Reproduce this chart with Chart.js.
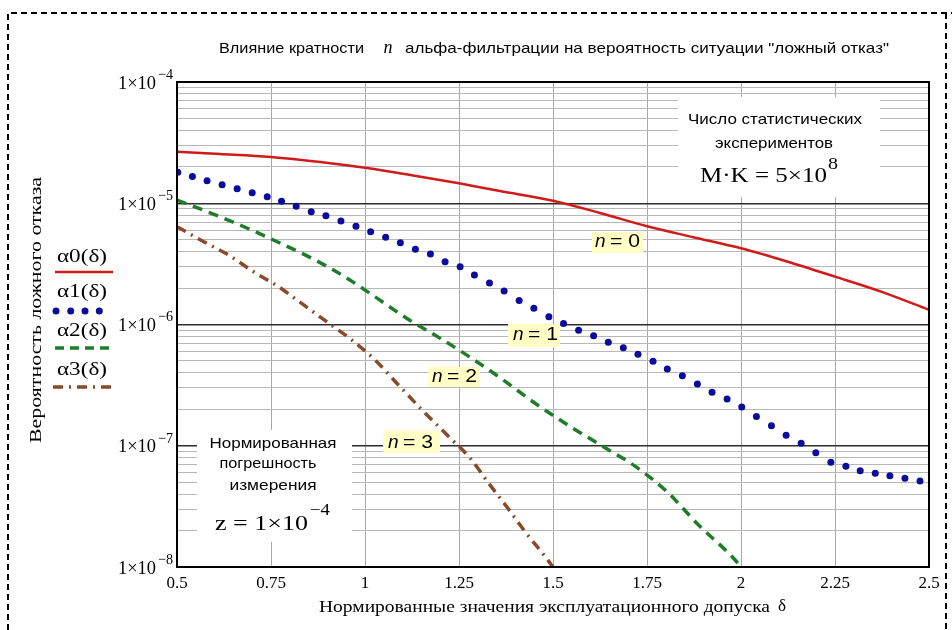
<!DOCTYPE html>
<html><head><meta charset="utf-8">
<script src="https://cdn.jsdelivr.net/npm/chart.js@4.4.0/dist/chart.umd.min.js"></script>
<style>html,body{margin:0;padding:0;background:#fff;}canvas{display:block;}</style>
</head><body>
<canvas id="c" width="952" height="630"></canvas>
<script>
// ---------- data ----------
const delta0 = [0.5,0.615,0.75,0.881,1.0,1.12,1.25,1.359,1.5,1.625,1.75,1.873,2.0,2.122,2.25,2.378,2.5];
const alpha0 = [2.66e-5,2.55e-5,2.41e-5,2.19e-5,1.96e-5,1.71e-5,1.46e-5,1.26e-5,1.05e-5,8.32e-6,6.46e-6,5.25e-6,4.25e-6,3.31e-6,2.48e-6,1.84e-6,1.32e-6];

const delta1 = [0.502,0.541,0.580,0.620,0.660,0.700,0.740,0.778,0.817,0.857,0.896,0.936,0.976,1.015,1.055,1.094,1.134,1.174,1.213,1.253,1.291,1.331,1.370,1.410,1.449,1.489,1.528,1.568,1.608,1.647,1.687,1.726,1.766,1.804,1.844,1.884,1.923,1.963,2.002,2.041,2.081,2.120,2.160,2.199,2.239,2.279,2.317,2.357,2.396,2.436,2.476];
const alpha1 = [1.80e-5,1.66e-5,1.53e-5,1.42e-5,1.32e-5,1.22e-5,1.13e-5,1.04e-5,9.44e-6,8.51e-6,7.89e-6,7.14e-6,6.46e-6,5.82e-6,5.24e-6,4.73e-6,4.17e-6,3.81e-6,3.30e-6,3.00e-6,2.56e-6,2.20e-6,1.89e-6,1.58e-6,1.36e-6,1.16e-6,1.02e-6,8.95e-7,8.09e-7,7.13e-7,6.44e-7,5.68e-7,4.97e-7,4.30e-7,3.78e-7,3.23e-7,2.76e-7,2.43e-7,2.09e-7,1.74e-7,1.46e-7,1.22e-7,1.05e-7,8.77e-8,7.31e-8,6.78e-8,6.22e-8,5.93e-8,5.66e-8,5.40e-8,5.13e-8];

const delta2 = [0.50,0.598,0.684,0.768,0.859,0.943,1.027,1.112,1.196,1.284,1.368,1.457,1.546,1.634,1.719,1.803,1.887,1.976,2.0];
const alpha2 = [1.06e-5,8.11e-6,6.28e-6,4.79e-6,3.51e-6,2.51e-6,1.69e-6,1.12e-6,7.83e-7,5.26e-7,3.48e-7,2.19e-7,1.44e-7,9.82e-8,6.76e-8,4.18e-8,2.22e-8,1.22e-8,1.0e-8];

const delta3 = [0.50,0.571,0.637,0.704,0.770,0.837,0.899,0.965,1.027,1.089,1.152,1.218,1.280,1.329,1.377,1.426,1.479,1.50];
const alpha3 = [6.41e-6,4.82e-6,3.74e-6,2.72e-6,2.05e-6,1.45e-6,1.05e-6,7.45e-7,5.09e-7,3.17e-7,1.97e-7,1.23e-7,7.87e-8,4.90e-8,3.14e-8,1.95e-8,1.22e-8,1.0e-8];

const seriesNames = ['α0(δ)','α1(δ)','α2(δ)','α3(δ)'];
const curveLabels = ['= 0','= 1','= 2','= 3'];

const xTickValues = [0.5,0.75,1,1.25,1.5,1.75,2,2.25,2.5];
const xTickLabels = ['0.5','0.75','1','1.25','1.5','1.75','2','2.25','2.5'];
const yTickValues = [1e-8,1e-7,1e-6,1e-5,1e-4];
const yTickBase = '1×10';
const yTickExp = ['−8','−7','−6','−5','−4'];

const titleParts = ['Влияние кратности','n','альфа-фильтрации на вероятность ситуации "ложный отказ"'];
const xTitle = 'Нормированные значения эксплуатационного допуска';
const yTitle = 'Вероятность ложного отказа';
const noteTR = ['Число статистических','экспериментов','M·K = 5×10','8'];
const noteBL = ['Нормированная','погрешность','измерения','z = 1×10','−4'];

// ---------- helpers ----------
const isDecade = v => Math.abs(Math.log10(v) - Math.round(Math.log10(v))) < 1e-6;
const yGrid = [];
for (let e = -8; e <= -4; e++) for (let m = 1; m <= 9; m++) { const v = m * Math.pow(10, e); if (v <= 1.00001e-4) yGrid.push(v); }

function ft(ctx, text, x, y, w, font, align) {
  ctx.save();
  ctx.font = font;
  ctx.textBaseline = 'middle';
  ctx.textAlign = 'left';
  const m = ctx.measureText(text).width;
  const sx = w ? w / m : 1;
  let left = x;
  if (align === 'center') left = x - m * sx / 2;
  else if (align === 'right') left = x - m * sx;
  ctx.translate(left, y);
  ctx.scale(sx, 1);
  ctx.fillStyle = '#000';
  ctx.fillText(text, 0, 0);
  ctx.restore();
}

const pts = (xs, ys) => xs.map((x, i) => ({x: x, y: ys[i]}));

const SERIF = "'Liberation Serif', 'Times New Roman', serif";
const SANS = "'Liberation Sans', Arial, sans-serif";

const overlay = {
  id: 'overlay',
  afterDatasetsDraw(chart) {
    const ctx = chart.ctx, ca = chart.chartArea;
    ctx.save();
    ctx.fillStyle = '#fff';
    ctx.fillRect(678, 97, 202, 100);
    ctx.fillRect(197, 430, 155, 112);
    ft(ctx, noteTR[0], 775, 120, 174, '15px ' + SANS, 'center');
    ft(ctx, noteTR[1], 774, 144, 118, '15px ' + SANS, 'center');
    ft(ctx, noteTR[2], 700, 177, 127, '20px ' + SERIF, 'left');
    ft(ctx, noteTR[3], 828, 165, 10, '16px ' + SERIF, 'left');
    ft(ctx, noteBL[0], 273, 444, 127, '15px ' + SANS, 'center');
    ft(ctx, noteBL[1], 268, 464, 97, '15px ' + SANS, 'center');
    ft(ctx, noteBL[2], 273, 486, 87, '15px ' + SANS, 'center');
    ft(ctx, noteBL[3], 215, 525, 93, '20px ' + SERIF, 'left');
    ft(ctx, noteBL[4], 310, 511, 20, '16px ' + SERIF, 'left');
    const boxes = [[592,232,51,21,595,242],[508,324,52,23,513,335],[428,367,52,20,432,377],[383,431,57,22,388,443]];
    boxes.forEach((b, i) => {
      ctx.fillStyle = '#ffffc6';
      ctx.fillRect(b[0], b[1], b[2], b[3]);
      ft(ctx, 'n', b[4], b[5], 0, 'italic 19px ' + SANS, 'left');
      ft(ctx, curveLabels[i], b[4] + 15, b[5], 30, '19px ' + SANS, 'left');
    });
    ctx.strokeStyle = '#000';
    ctx.lineWidth = 2;
    ctx.strokeRect(ca.left, ca.top, ca.right - ca.left, ca.bottom - ca.top);
    ctx.restore();
  },
  afterDraw(chart) {
    const ctx = chart.ctx, ys = chart.scales.y;
    ctx.save();
    ft(ctx, titleParts[0], 219, 49, 145, '15px ' + SANS, 'left');
    ft(ctx, titleParts[1], 388, 48, 0, 'italic 18px ' + SERIF, 'center');
    ft(ctx, titleParts[2], 405, 49, 484, '15px ' + SANS, 'left');
    yTickValues.forEach((v, i) => {
      const py = ys.getPixelForValue(v);
      ft(ctx, yTickBase, 156, py + 2, 38, '18px ' + SERIF, 'right');
      ft(ctx, yTickExp[i], 158, py - 7, 15, '15px ' + SERIF, 'left');
    });
    ft(ctx, xTitle, 319, 608, 451, '17px ' + SERIF, 'left');
    ft(ctx, 'δ', 782, 607, 0, '17px ' + SERIF, 'center');
    ctx.save();
    ctx.translate(37, 310);
    ctx.rotate(-Math.PI / 2);
    ft(ctx, yTitle, 0, 0, 266, '17px ' + SERIF, 'center');
    ctx.restore();
    const ds = chart.data.datasets;
    const ly = [257, 292, 331, 370];
    const sy = [272, 311, 348, 387];
    seriesNames.forEach((s, i) => ft(ctx, s, 57, ly[i], 50, '18px ' + SERIF, 'left'));
    ctx.lineCap = 'butt';
    ctx.strokeStyle = ds[0].borderColor; ctx.lineWidth = ds[0].borderWidth; ctx.setLineDash([]);
    ctx.beginPath(); ctx.moveTo(55, sy[0]); ctx.lineTo(113, sy[0]); ctx.stroke();
    ctx.fillStyle = ds[1].pointBackgroundColor;
    [56, 70.7, 85, 99.3].forEach(x => { ctx.beginPath(); ctx.arc(x, sy[1], ds[1].pointRadius, 0, Math.PI * 2); ctx.fill(); });
    ctx.strokeStyle = ds[2].borderColor; ctx.lineWidth = ds[2].borderWidth; ctx.setLineDash([9, 6]);
    ctx.beginPath(); ctx.moveTo(55, sy[2]); ctx.lineTo(113, sy[2]); ctx.stroke();
    ctx.strokeStyle = ds[3].borderColor; ctx.lineWidth = ds[3].borderWidth; ctx.setLineDash(ds[3].borderDash);
    ctx.beginPath(); ctx.moveTo(53, sy[3]); ctx.lineTo(113, sy[3]); ctx.stroke();
    ctx.setLineDash([6, 4]);
    ctx.strokeStyle = '#000';
    ctx.lineWidth = 2;
    ctx.beginPath();
    ctx.moveTo(8, 630); ctx.lineTo(8, 13); ctx.lineTo(952, 13);
    ctx.moveTo(946, 13); ctx.lineTo(946, 630);
    ctx.stroke();
    ctx.restore();
  }
};

new Chart(document.getElementById('c'), {
  type: 'line',
  data: {
    datasets: [
      {label: seriesNames[0], data: pts(delta0, alpha0), borderColor: '#d11a1a', borderWidth: 2.5, pointRadius: 0, fill: false, cubicInterpolationMode: 'monotone'},
      {label: seriesNames[1], data: pts(delta1, alpha1), showLine: false, borderColor: '#0c0c9c', pointBackgroundColor: '#0c0c9c', pointBorderWidth: 0, pointRadius: 3.5},
      {label: seriesNames[2], data: pts(delta2, alpha2), borderColor: '#1f7d2a', borderWidth: 3.5, borderDash: [10, 7], pointRadius: 0, fill: false, cubicInterpolationMode: 'monotone'},
      {label: seriesNames[3], data: pts(delta3, alpha3), borderColor: '#8a4a2a', borderWidth: 3.5, borderDash: [10, 6, 2, 6], pointRadius: 0, fill: false, cubicInterpolationMode: 'monotone'}
    ]
  },
  options: {
    responsive: false,
    animation: false,
    devicePixelRatio: 1,
    layout: {padding: {left: 177, right: 23, top: 82, bottom: 23}},
    plugins: {legend: {display: false}, tooltip: {enabled: false}, title: {display: false}},
    scales: {
      x: {
        type: 'linear', min: 0.5, max: 2.5,
        afterBuildTicks: s => { s.ticks = xTickValues.map(v => ({value: v})); },
        afterFit: s => { s.height = 40; },
        ticks: {callback: (v, i) => xTickLabels[i], color: '#000', font: {family: SERIF, size: 17}, padding: 6, maxRotation: 0, autoSkip: false},
        grid: {color: '#a8a8a8', lineWidth: 1, drawTicks: false},
        border: {display: false}
      },
      y: {
        type: 'logarithmic', min: 1e-8, max: 1e-4,
        afterBuildTicks: s => { s.ticks = yGrid.map(v => ({value: v})); },
        afterFit: s => { s.width = 0; },
        ticks: {display: false},
        grid: {
          color: c => (c.tick && isDecade(c.tick.value)) ? '#2e2e2e' : '#b8b8b8',
          lineWidth: c => (c.tick && isDecade(c.tick.value)) ? 1.5 : 1,
          drawTicks: false
        },
        border: {display: false}
      }
    }
  },
  plugins: [overlay]
});
</script>
</body></html>
